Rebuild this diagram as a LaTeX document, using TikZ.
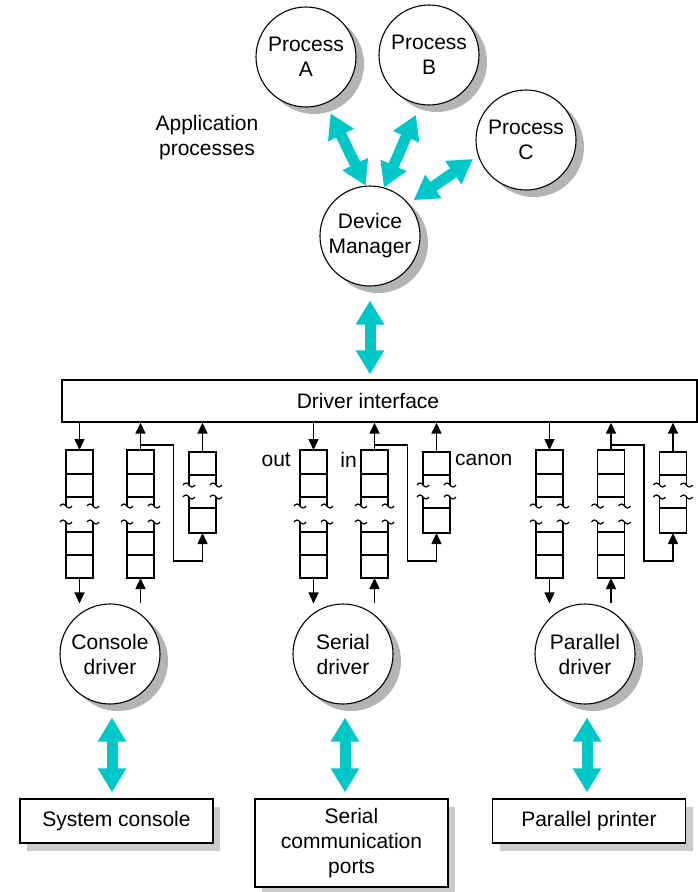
\documentclass[tikz,border=0pt]{standalone}
\usepackage{fontspec}
\setmainfont{Liberation Sans}
\usetikzlibrary{arrows.meta,shadows}

\definecolor{flowteal}{RGB}{0,200,200}
\definecolor{shadegray}{RGB}{180,180,180}

\tikzset{
  proc/.style={circle, draw=black, line width=1.1pt, fill=white,
    minimum size=100pt, inner sep=0pt, align=center,
    drop shadow={shadow xshift=8pt, shadow yshift=-7pt, fill=shadegray, opacity=1}},
  devbox/.style={rectangle, draw=black, line width=1.3pt, fill=white,
    minimum width=193pt, inner sep=0pt, align=center,
    drop shadow={shadow xshift=7pt, shadow yshift=-8pt, fill=shadegray!70, opacity=1}},
  qnode/.style={rectangle, minimum width=27pt, inner sep=0pt, outer sep=0pt},
  qline/.style={draw=black, line width=1.7pt},
  wave/.style={draw=black, line width=1.2pt},
  arr/.style={draw=black, line width=1.5pt, -{Triangle[width=10pt,length=11pt]}},
  flow/.style={draw=flowteal, line width=11pt,
    {Triangle[width=27pt,length=24pt]}-{Triangle[width=27pt,length=24pt]}},
}

% long queue: #1 = x of centre, #2 = node name
\newcommand{\longqueue}[2]{%
  \node[qnode, minimum height=128pt] (#2) at (#1,514) {};
  \path[qline] (#1-13.5,506) -- (#1-13.5,450) -- (#1+13.5,450) -- (#1+13.5,506)
    (#1-13.5,474) -- (#1+13.5,474) (#1-13.5,497) -- (#1+13.5,497)
    (#1-13.5,522) -- (#1-13.5,578) -- (#1+13.5,578) -- (#1+13.5,522)
    (#1-13.5,532) -- (#1+13.5,532) (#1-13.5,555) -- (#1+13.5,555);
  \foreach \s in {-13.5,13.5}{
    \foreach \w in {506,522}
      \path[wave] (#1+\s-6,\w) sin ++(3,-2) cos ++(3,2) sin ++(3,2) cos ++(3,-2);
  }%
}
% short queue (canon)
\newcommand{\shortqueue}[2]{%
  \node[qnode, minimum height=81pt] (#2) at (#1,492.5) {};
  \path[qline] (#1-13.5,485) -- (#1-13.5,452) -- (#1+13.5,452) -- (#1+13.5,485)
    (#1-13.5,475) -- (#1+13.5,475)
    (#1-13.5,497) -- (#1-13.5,533) -- (#1+13.5,533) -- (#1+13.5,497)
    (#1-13.5,508) -- (#1+13.5,508);
  \foreach \s in {-13.5,13.5}{
    \foreach \w in {485,497}
      \path[wave] (#1+\s-6,\w) sin ++(3,-2) cos ++(3,2) sin ++(3,2) cos ++(3,-2);
  }%
}

\begin{document}
\begin{tikzpicture}[x=1pt, y=-1pt, font=\fontsize{21}{25}\selectfont]
\useasboundingbox (0,0) rectangle (698,892);

% processes and device manager
\node[proc] (procA) at (306,57) {Process\\A};
\node[proc] (procB) at (429,55) {Process\\B};
\node[proc] (procC) at (526,140) {Process\\C};
\node[align=center] (apps) at (207,138) {Application\\processes};
\node[proc] (devmgr) at (370,236) {Device\\Manager};

\node[draw=black, line width=1.3pt, minimum width=635pt, minimum height=42pt,
  inner sep=0pt, label={[xshift=-11.5pt]center:Driver interface}] (iface) at (379.5,401) {};

\draw[flow, shorten <=11pt] (procA.-67) -- (devmgr.95);
\draw[flow, shorten <=11pt] (procB.-100) -- (devmgr.74);
\draw[flow, shorten <=6pt, shorten >=6pt] (procC.-162) -- (devmgr.40);
\draw[flow, shorten <=14pt, shorten >=5pt] (devmgr.south) -- (devmgr.south |- iface.north);

% queues
\longqueue{79.5}{conout} \longqueue{140.5}{conin} \shortqueue{202.5}{concan}
\longqueue{313.5}{serout} \longqueue{374.5}{serin} \shortqueue{436.5}{sercan}
\longqueue{549.5}{parout} \longqueue{611}{parin} \shortqueue{673}{parcan}

\node[anchor=east, inner sep=0pt] (outlbl) at (291,460) {out};
\node[anchor=east, inner sep=0pt] (inlbl) at (357,460) {in};
\node[anchor=west, inner sep=0pt] (canlbl) at (455,460) {canon};

% drivers
\node[proc] (condrv) at (110,654) {Console\\driver};
\node[proc] (serdrv) at (343,654) {Serial\\driver};
\node[proc] (pardrv) at (585,654) {Parallel\\driver};

% devices
\node[devbox, minimum height=44pt] (consys) at (116.5,821) {System console};
\node[devbox, minimum height=88pt] (serprt) at (351.5,843) {Serial\\communication\\ports};
\node[devbox, minimum height=44pt] (parprn) at (589,821) {Parallel printer};

\foreach \g in {con,ser,par}{
  \draw[arr] (iface.south -| \g out.north) -- (\g out.north);
  \draw[arr] (\g out.south) -- (\g out.south |- \g drv.north);
  \draw[arr] (\g in.south |- \g drv.north) -- (\g in.south);
  \draw[arr] (\g in.north) -- (iface.south -| \g in.north);
  \draw[arr] ([yshift=5pt]\g in.north) -| ++(33,116) -| (\g can.south);
  \draw[arr] (\g can.north) -- (iface.south -| \g can.north);
}

\foreach \g/\d in {con/sys, ser/prt, par/prn}
  \draw[flow, shorten <=13pt, shorten >=6pt] ([xshift=2pt]\g drv.south)
    -- ([xshift=2pt]\g drv.south |- \g\d.north);

\end{tikzpicture}
\end{document}
